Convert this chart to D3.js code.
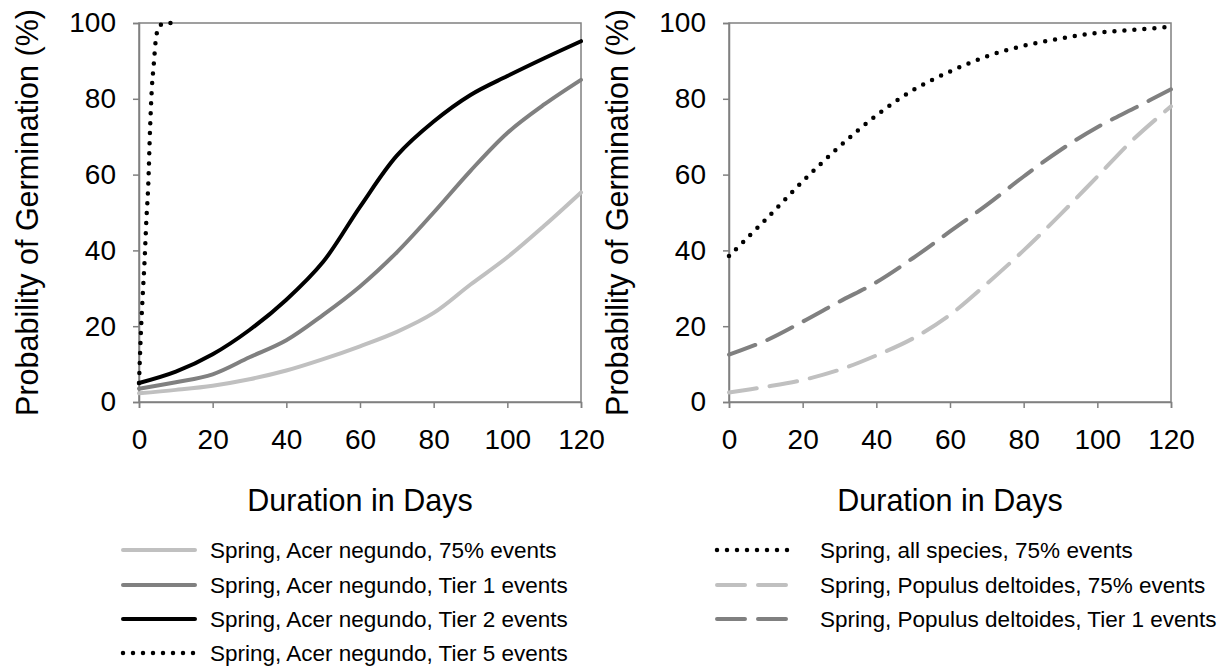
<!DOCTYPE html>
<html>
<head>
<meta charset="utf-8">
<script src="https://cdn.jsdelivr.net/npm/d3@7"></script>
<style>
  body { margin: 0; background: #fff; }
  svg { font-family: "Liberation Sans", Arial, sans-serif; }
</style>
</head>
<body>
<div id="chart"></div>
<script>
// days (every 10 days)
const days = [0, 10, 20, 30, 40, 50, 60, 70, 80, 90, 100, 110, 120];

// left panel - Acer negundo
const acer75 = [2.3, 3.2, 4.3, 6, 8.3, 11.3, 14.7, 18.5, 23.5, 31, 38.2, 46.5, 55.3];
const acerTier1 = [3.5, 5.2, 7.3, 11.8, 16.3, 23, 30.5, 39.5, 50, 61, 71, 78.5, 85];
const acerTier2 = [5, 8, 12.6, 19, 27, 37, 51.5, 65, 74, 81, 86, 90.7, 95.2];
// tier 5 shoots up in the first few days
const tier5Days = [0, 0.5, 1, 1.5, 2, 2.5, 3, 3.5, 4, 4.5, 5, 6, 7, 9];
const acerTier5 = [5, 18, 28, 37, 48, 57, 72, 83, 89, 95, 98, 99.6, 100, 100];

// right panel
const allSpecies75 = [38.5, 48.2, 58.2, 67.4, 75.6, 82.3, 87.2, 91.2, 94, 95.9, 97.4, 98.2, 99];
const populus75 = [2.5, 4, 5.8, 8.5, 12.3, 16.8, 23, 31.2, 40, 49.5, 59.5, 69.5, 78];
const populusTier1 = [12.5, 16.2, 21.2, 26.5, 31.6, 38, 45, 52, 59.5, 66.5, 72.5, 77.5, 82.5];

const xTicks = [0, 20, 40, 60, 80, 100, 120];
const yTicks = [0, 20, 40, 60, 80, 100];

const W = 1222, H = 668;
const svg = d3.select("#chart").append("svg")
  .attr("width", W).attr("height", H);

const LIGHT = "#c0c0c0", MID = "#808080", DARK = "#000";
const styles = {
  solid: { dash: null, cap: "round", width: 4 },
  dot: { dash: "0,10", cap: "round", width: 4.5 },
  dash: { dash: "28,13", cap: "round", width: 4 }
};

const zip = (xs, ys) => xs.map((x, i) => ({ x: x, y: ys[i] }));

const panels = [
  {
    left: 139, right: 581, top: 23, bottom: 402, ylabelX: 27,
    series: [
      { pts: zip(days, acer75), color: LIGHT, style: "solid", name: "Spring, Acer negundo, 75% events" },
      { pts: zip(days, acerTier1), color: MID, style: "solid", name: "Spring, Acer negundo, Tier 1 events" },
      { pts: zip(days, acerTier2), color: DARK, style: "solid", name: "Spring, Acer negundo, Tier 2 events" },
      { pts: zip(tier5Days, acerTier5), color: DARK, style: "dot", name: "Spring, Acer negundo, Tier 5 events", mono: true }
    ],
    legend: { x1: 123, x2: 195, tx: 210 }
  },
  {
    left: 729, right: 1171, top: 23, bottom: 402, ylabelX: 617,
    series: [
      { pts: zip(days, allSpecies75), color: DARK, style: "dot", name: "Spring, all species, 75% events" },
      { pts: zip(days, populus75), color: LIGHT, style: "dash", name: "Spring, Populus deltoides, 75% events" },
      { pts: zip(days, populusTier1), color: MID, style: "dash", name: "Spring, Populus deltoides, Tier 1 events" }
    ],
    legend: { x1: 717, x2: 789, tx: 820 }
  }
];

const legendRows = [550, 585, 619, 653];

panels.forEach(p => {
  const x = d3.scaleLinear().domain([0, 120]).range([p.left, p.right]);
  const y = d3.scaleLinear().domain([0, 100]).range([p.bottom, p.top]);
  const g = svg.append("g");

  // frame
  g.append("rect")
    .attr("x", p.left).attr("y", p.top)
    .attr("width", p.right - p.left).attr("height", p.bottom - p.top)
    .attr("fill", "none").attr("stroke", "#808080").attr("stroke-width", 1.5);

  const xAxis = g.append("g")
    .attr("transform", "translate(0," + p.bottom + ")")
    .call(d3.axisBottom(x).tickValues(xTicks).tickSize(6).tickPadding(21));
  const yAxis = g.append("g")
    .attr("transform", "translate(" + p.left + ",0)")
    .call(d3.axisLeft(y).tickValues(yTicks).tickSize(6).tickPadding(17));
  [xAxis, yAxis].forEach(a => {
    a.select(".domain").attr("stroke", "#808080").attr("stroke-width", 1.5);
    a.selectAll(".tick line").attr("stroke", "#808080").attr("stroke-width", 1.5);
    a.selectAll(".tick text").attr("fill", "#000")
      .style("font-size", "28px").style("font-family", "Liberation Sans, Arial, sans-serif");
  });

  // axis titles
  g.append("text")
    .attr("x", (p.left + p.right) / 2).attr("y", 511)
    .attr("text-anchor", "middle").style("font-size", "30.5px")
    .text("Duration in Days");
  g.append("text")
    .attr("transform", "translate(" + p.ylabelX + "," + ((p.top + p.bottom) / 2) + ") rotate(-90)")
    .attr("text-anchor", "middle").attr("dy", "0.35em").style("font-size", "30.5px")
    .text("Probability of Germination (%)");

  p.series.forEach((s, i) => {
    const st = styles[s.style];
    // smooth curves like the original; the steep tier 5 line stays monotone so it never passes 100
    const line = d3.line().x(d => x(d.x)).y(d => y(d.y))
      .curve(s.mono ? d3.curveMonotoneX : d3.curveCatmullRom.alpha(0.5));
    g.append("path")
      .datum(s.pts)
      .attr("fill", "none")
      .attr("stroke", s.color)
      .attr("stroke-width", st.width)
      .attr("stroke-linecap", st.cap)
      .attr("stroke-linejoin", "round")
      .attr("stroke-dasharray", st.dash)
      .attr("d", line);

    // legend entry
    const ly = legendRows[i];
    g.append("line")
      .attr("x1", p.legend.x1).attr("x2", p.legend.x2)
      .attr("y1", ly).attr("y2", ly)
      .attr("stroke", s.color)
      .attr("stroke-width", st.width)
      .attr("stroke-linecap", st.cap)
      .attr("stroke-dasharray", st.dash);
    g.append("text")
      .attr("x", p.legend.tx).attr("y", ly).attr("dy", "0.35em")
      .style("font-size", "22.5px")
      .text(s.name);
  });
});
</script>
</body>
</html>
